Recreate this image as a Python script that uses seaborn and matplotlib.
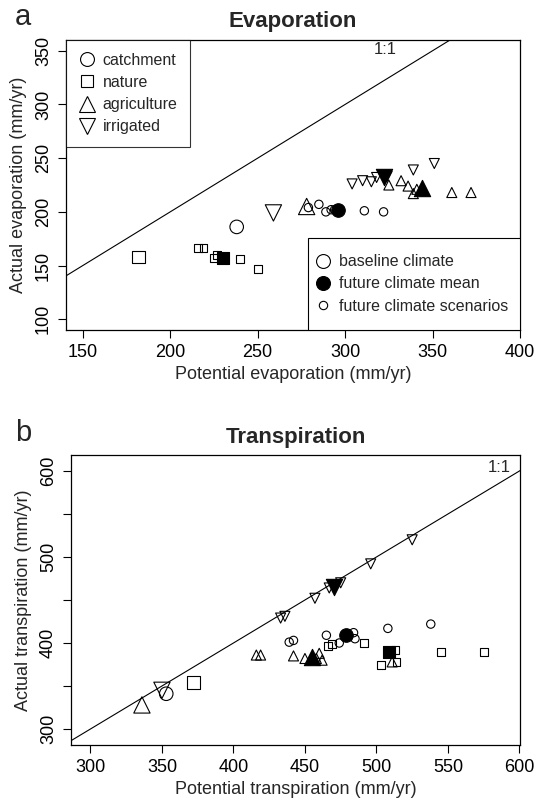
import numpy as np
import matplotlib
matplotlib.use("Agg")
import matplotlib.pyplot as plt
from matplotlib.lines import Line2D
from matplotlib.patches import Rectangle
import seaborn as sns

# ---- panel a: evaporation (potential x, actual y) ----
evap_catch_base = ([238], [186])
evap_catch_mean = ([296], [202])
evap_catch_scen_x = [279, 285, 289, 292, 294, 311, 322]
evap_catch_scen_y = [204, 207, 200, 202, 202, 201, 200]

evap_nat_base = ([182], [158])
evap_nat_mean = ([230], [157])
evap_nat_scen_x = [216, 219, 225, 227, 240, 250]
evap_nat_scen_y = [166, 166, 157, 160, 156, 147]

evap_agr_base = ([278], [205])
evap_agr_mean = ([344], [222])
evap_agr_scen_x = [325, 332, 336, 339, 341, 361, 372]
evap_agr_scen_y = [225, 229, 224, 217, 221, 218, 218]

evap_irr_base = ([259], [199])
evap_irr_mean = ([322], [232])
evap_irr_scen_x = [304, 310, 315, 318, 324, 339, 351]
evap_irr_scen_y = [226, 229, 228, 232, 233, 239, 245]

# ---- panel b: transpiration ----
tr_catch_base = ([353], [341])
tr_catch_mean = ([479], [409])
tr_catch_scen_x = [439, 442, 465, 474, 484, 485, 508, 538]
tr_catch_scen_y = [401, 403, 409, 400, 412, 405, 417, 422]

tr_nat_base = ([372], [354])
tr_nat_mean = ([509], [390])
tr_nat_scen_x = [466, 469, 491, 513, 503, 514, 545, 575]
tr_nat_scen_y = [396, 399, 400, 392, 374, 378, 390, 390]

tr_agr_base = ([336], [328])
tr_agr_mean = ([455], [384])
tr_agr_scen_x = [416, 419, 442, 450, 458, 460, 462, 511]
tr_agr_scen_y = [386, 386, 385, 382, 382, 388, 380, 378]

tr_irr_base = ([350], [345])
tr_irr_mean = ([470], [465])
tr_irr_scen_x = [433, 436, 457, 467, 475, 496, 525]
tr_irr_scen_y = [429, 431, 452, 464, 470, 492, 520]

sns.set_style("white")
plt.rcParams["font.family"] = ["Liberation Sans", "DejaVu Sans"]

BIG, SMALL = 95, 36
LW = 0.8


def draw(ax, marker, base, mean, sx, sy, k=1.0):
    sns.scatterplot(x=sx, y=sy, marker=marker, s=SMALL * k, color="black",
                    facecolor="none", edgecolor="black", linewidth=LW, ax=ax, zorder=3)
    sns.scatterplot(x=base[0], y=base[1], marker=marker, s=BIG * k, color="black",
                    facecolor="none", edgecolor="black", linewidth=LW, ax=ax, zorder=4)
    sns.scatterplot(x=mean[0], y=mean[1], marker=marker, s=BIG * k, color="black",
                    facecolor="black", edgecolor="black", linewidth=LW, ax=ax, zorder=5)


def style_axes(ax):
    for sp in ax.spines.values():
        sp.set_visible(True)
        sp.set_color("black")
        sp.set_linewidth(0.9)
    ax.tick_params(direction="out", length=6, width=0.8, labelsize=13, pad=4,
                   bottom=True, left=True, colors="black")
    for lab in ax.get_yticklabels():
        lab.set_rotation(90)
        lab.set_va("center")


fig = plt.figure(figsize=(5.42, 8.07), dpi=100)
ax_a = fig.add_axes([66 / 542, 1 - 330 / 807, 454 / 542, 290 / 807])
ax_b = fig.add_axes([71 / 542, 1 - 745 / 807, 449 / 542, 290 / 807])

# panel a
draw(ax_a, "o", evap_catch_base, evap_catch_mean, evap_catch_scen_x, evap_catch_scen_y)
draw(ax_a, "s", evap_nat_base, evap_nat_mean, evap_nat_scen_x, evap_nat_scen_y, 0.9)
draw(ax_a, "^", evap_agr_base, evap_agr_mean, evap_agr_scen_x, evap_agr_scen_y, 1.45)
draw(ax_a, "v", evap_irr_base, evap_irr_mean, evap_irr_scen_x, evap_irr_scen_y, 1.45)
ax_a.plot([0, 1000], [0, 1000], color="black", lw=0.8, zorder=2)
ax_a.text(323, 351, "1:1", fontsize=12, ha="center", va="center")
ax_a.set_xlim(140.4, 399.6)
ax_a.set_ylim(90, 360)
ax_a.set_xticks([150, 200, 250, 300, 350, 400])
ax_a.set_yticks([100, 150, 200, 250, 300, 350])
ax_a.set_xlabel("Potential evaporation (mm/yr)", fontsize=13, labelpad=4)
ax_a.set_ylabel("Actual evaporation (mm/yr)", fontsize=13, labelpad=6)
ax_a.set_title("Evaporation", fontsize=16, fontweight="bold", pad=9)
style_axes(ax_a)

h1 = [Line2D([], [], ls="none", marker="o", ms=10, mfc="none", mec="black", mew=LW),
      Line2D([], [], ls="none", marker="s", ms=9, mfc="none", mec="black", mew=LW),
      Line2D([], [], ls="none", marker="^", ms=11, mfc="none", mec="black", mew=LW),
      Line2D([], [], ls="none", marker="v", ms=11, mfc="none", mec="black", mew=LW)]
leg1 = ax_a.legend(h1, ["catchment", "nature", "agriculture", "irrigated"],
                   loc="upper left", borderaxespad=0, fontsize=11.5, frameon=True,
                   fancybox=False, edgecolor="black", handlelength=1.0,
                   handletextpad=0.5, labelspacing=0.45, borderpad=0.8)
leg1.get_frame().set_linewidth(0.8)
ax_a.add_artist(leg1)

# climate legend: R-style box in the lower right corner
ax_a.add_patch(Rectangle((0.533, 0.0), 0.467, 0.317, transform=ax_a.transAxes,
                         facecolor="white", edgecolor="black", lw=0.8, zorder=6))
h2 = [Line2D([], [], ls="none", marker="o", ms=10, mfc="none", mec="black", mew=LW),
      Line2D([], [], ls="none", marker="o", ms=10, mfc="black", mec="black", mew=LW),
      Line2D([], [], ls="none", marker="o", ms=6, mfc="none", mec="black", mew=LW)]
leg2 = ax_a.legend(h2, ["baseline climate", "future climate mean", "future climate scenarios"],
                   loc="center left", bbox_to_anchor=(0.548, 0.159), borderaxespad=0,
                   borderpad=0, fontsize=11.5, frameon=False, handlelength=1.0,
                   handletextpad=0.5, labelspacing=0.45)
leg2.set_zorder(7)

# panel b
draw(ax_b, "o", tr_catch_base, tr_catch_mean, tr_catch_scen_x, tr_catch_scen_y)
draw(ax_b, "s", tr_nat_base, tr_nat_mean, tr_nat_scen_x, tr_nat_scen_y, 0.9)
draw(ax_b, "^", tr_agr_base, tr_agr_mean, tr_agr_scen_x, tr_agr_scen_y, 1.45)
draw(ax_b, "v", tr_irr_base, tr_irr_mean, tr_irr_scen_x, tr_irr_scen_y, 1.45)
ax_b.plot([0, 1000], [0, 1000], color="black", lw=0.8, zorder=2)
ax_b.text(586, 604, "1:1", fontsize=12, ha="center", va="center")
ax_b.set_xlim(286.4, 600.4)
ax_b.set_ylim(281.4, 618.6)
ax_b.set_xticks([300, 350, 400, 450, 500, 550, 600])
ax_b.set_yticks([300, 350, 400, 450, 500, 550, 600])
ax_b.set_yticklabels(["300", "", "400", "", "500", "", "600"])
ax_b.set_xlabel("Potential transpiration (mm/yr)", fontsize=13, labelpad=4)
ax_b.set_ylabel("Actual transpiration (mm/yr)", fontsize=13, labelpad=6)
ax_b.set_title("Transpiration", fontsize=16, fontweight="bold", pad=9)
style_axes(ax_b)

fig.text(15 / 542, 1 - 17 / 807, "a", fontsize=21, ha="left", va="center")
fig.text(15 / 542, 1 - 433 / 807, "b", fontsize=21, ha="left", va="center")

fig.savefig("out.png", dpi=100, facecolor="white")
